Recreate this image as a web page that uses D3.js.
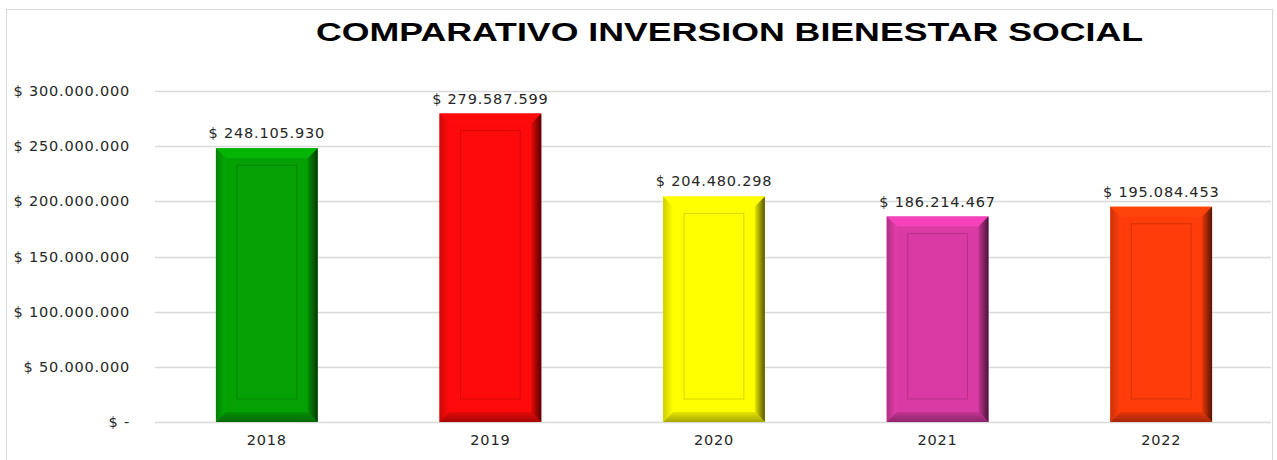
<!DOCTYPE html>
<html>
<head>
<meta charset="utf-8">
<script src="https://cdn.jsdelivr.net/npm/d3@7"></script>
<style>
  body { margin: 0; background: #fff; }
  svg { display: block; }
</style>
</head>
<body>
<div id="chart"></div>
<script>
// Comparativo inversion bienestar social - bar chart with bevel look

var years = ['2018', '2019', '2020', '2021', '2022'];
var values = [248105930, 279587599, 204480298, 186214467, 195084453];
var barColors = ['#04a004', '#ff0a0a', '#ffff00', '#d93aa4', '#ff3c0a'];
var yTicks = [0, 50000000, 100000000, 150000000, 200000000, 250000000, 300000000];
var titleText = 'COMPARATIVO INVERSION BIENESTAR SOCIAL';

var svgWidth = 1277;
var svgHeight = 460;
var margin = {top: 91, right: 2, bottom: 38, left: 155};
var chartW = svgWidth - margin.left - margin.right;
var chartH = svgHeight - margin.top - margin.bottom;

// number format with dots as thousands
function money(v) {
    if (v === 0) return '$ -';
    return '$ ' + d3.format(',')(v).replace(/,/g, '.');
}

var svg = d3.select('#chart')
    .append('svg')
    .attr('width', svgWidth)
    .attr('height', svgHeight);

// outer frame
svg.append('rect')
    .attr('x', 6.5)
    .attr('y', 9.5)
    .attr('width', 1266)
    .attr('height', 460)
    .attr('fill', 'none')
    .attr('stroke', '#d9d9d9');

svg.append('text')
    .attr('x', 316)
    .attr('y', 41)
    .attr('font-family', 'Liberation Sans, Arial, sans-serif')
    .attr('font-weight', 'bold')
    .attr('font-size', '26px')
    .attr('textLength', 827)
    .attr('lengthAdjust', 'spacingAndGlyphs')
    .attr('fill', '#000')
    .text(titleText);

var g = svg.append('g')
    .attr('transform', `translate(${margin.left}, ${margin.top})`);

var xScale = d3.scaleBand()
    .domain(years)
    .range([0, chartW - 2])
    .paddingInner(0.545)
    .paddingOuter(0.2725);

var yScale = d3.scaleLinear()
    .domain([0, 300000000])
    .range([chartH, 0]);

// gridlines
g.append('g')
    .selectAll('line')
    .data(yTicks)
    .enter()
    .append('line')
    .attr('x1', 0)
    .attr('x2', chartW - 4)
    .attr('y1', d => Math.round(yScale(d)) + 0.5)
    .attr('y2', d => Math.round(yScale(d)) + 0.5)
    .attr('stroke', '#d9d9d9')
    .attr('stroke-width', 1.3);

var labelFont = {family: 'DejaVu Sans, Verdana, sans-serif', size: '14.5px', spacing: '0.8px'};

// y labels
g.append('g')
    .selectAll('text')
    .data(yTicks)
    .enter()
    .append('text')
    .attr('x', -25)
    .attr('y', d => yScale(d) + 5)
    .attr('text-anchor', 'end')
    .attr('font-family', labelFont.family)
    .attr('font-size', labelFont.size)
    .attr('letter-spacing', labelFont.spacing)
    .attr('fill', '#262626')
    .text(d => money(d));

// x labels
g.append('g')
    .selectAll('text')
    .data(years)
    .enter()
    .append('text')
    .attr('x', d => xScale(d) + xScale.bandwidth() / 2)
    .attr('y', chartH + 23)
    .attr('text-anchor', 'middle')
    .attr('font-family', labelFont.family)
    .attr('font-size', labelFont.size)
    .attr('letter-spacing', labelFont.spacing)
    .attr('fill', '#262626')
    .text(d => d);

// gradients for the dark right edge
var defs = svg.append('defs');
barColors.forEach((c, i) => {
    var grad = defs.append('linearGradient')
        .attr('id', 'rightEdge' + i)
        .attr('x1', '0').attr('x2', '1').attr('y1', '0').attr('y2', '0');
    grad.append('stop').attr('offset', '0%').attr('stop-color', d3.color(c).darker(0.3));
    grad.append('stop').attr('offset', '100%').attr('stop-color', d3.color(c).darker(3));
    var gl = defs.append('linearGradient')
        .attr('id', 'leftEdge' + i)
        .attr('x1', '0').attr('x2', '1').attr('y1', '0').attr('y2', '0');
    gl.append('stop').attr('offset', '0%').attr('stop-color', d3.color(c).darker(0.6));
    gl.append('stop').attr('offset', '100%').attr('stop-color', d3.color(c).brighter(0.15));
    var gb = defs.append('linearGradient')
        .attr('id', 'bottomEdge' + i)
        .attr('x1', '0').attr('x2', '0').attr('y1', '0').attr('y2', '1');
    gb.append('stop').attr('offset', '0%').attr('stop-color', d3.color(c).darker(0.3));
    gb.append('stop').attr('offset', '100%').attr('stop-color', d3.color(c).darker(1.2));
});

var bevel = 10;
var inset = 21;

years.forEach((yr, i) => {
    var x0 = xScale(yr);
    var w = xScale.bandwidth();
    var x1 = x0 + w;
    var y0 = yScale(values[i]);
    var y1 = yScale(0);
    var c = d3.color(barColors[i]);
    var bar = g.append('g');

    bar.append('rect')
        .attr('x', x0).attr('y', y0)
        .attr('width', w).attr('height', y1 - y0)
        .attr('fill', c);
    // top bevel
    bar.append('polygon')
        .attr('points', [[x0, y0], [x1, y0], [x1 - bevel, y0 + bevel], [x0 + bevel, y0 + bevel]].join(' '))
        .attr('fill', c.brighter(0.35));
    // left bevel
    bar.append('polygon')
        .attr('points', [[x0, y0], [x0 + bevel, y0 + bevel], [x0 + bevel, y1 - bevel], [x0, y1]].join(' '))
        .attr('fill', `url(#leftEdge${i})`);
    // right bevel
    bar.append('polygon')
        .attr('points', [[x1, y0], [x1, y1], [x1 - bevel, y1 - bevel], [x1 - bevel, y0 + bevel]].join(' '))
        .attr('fill', `url(#rightEdge${i})`);
    // bottom bevel
    bar.append('polygon')
        .attr('points', [[x0, y1], [x1, y1], [x1 - bevel, y1 - bevel], [x0 + bevel, y1 - bevel]].join(' '))
        .attr('fill', `url(#bottomEdge${i})`);
    // inner panel outline
    bar.append('rect')
        .attr('x', x0 + inset).attr('y', y0 + inset - 4)
        .attr('width', w - inset * 2).attr('height', Math.max(0, y1 - y0 - inset * 2 + 2))
        .attr('fill', 'none')
        .attr('stroke', c.darker(0.5))
        .attr('stroke-width', 1);

    // value label
    g.append('text')
        .attr('x', x0 + w / 2)
        .attr('y', y0 - 10)
        .attr('text-anchor', 'middle')
        .attr('font-family', labelFont.family)
        .attr('font-size', labelFont.size)
        .attr('letter-spacing', labelFont.spacing)
        .attr('fill', '#262626')
        .text(money(values[i]));
});
</script>
</body>
</html>
